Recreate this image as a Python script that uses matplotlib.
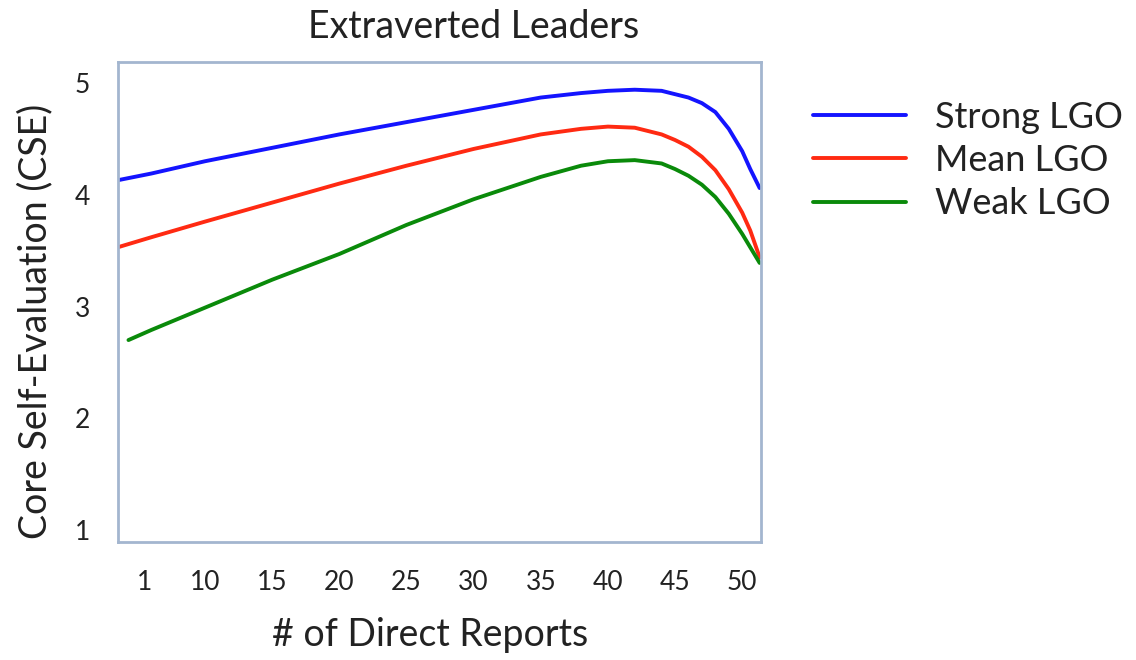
import numpy as np
import matplotlib
matplotlib.use('Agg')
import matplotlib.pyplot as plt

plt.rcParams['font.family'] = ['Lato', 'DejaVu Sans']

# values
x_pts = [3.5, 6, 10, 15, 20, 25, 30, 35, 38, 40, 42, 44, 45, 46, 47, 48, 49, 50, 50.6, 51.3]
strong = [4.13, 4.19, 4.30, 4.42, 4.54, 4.65, 4.76, 4.87, 4.91, 4.93, 4.94, 4.93, 4.90, 4.87,
          4.82, 4.74, 4.59, 4.39, 4.23, 4.06]
mean = [3.53, 3.62, 3.76, 3.93, 4.10, 4.26, 4.41, 4.54, 4.59, 4.61, 4.60, 4.54, 4.49, 4.43,
        4.34, 4.22, 4.05, 3.84, 3.68, 3.44]
x_weak = [4.3, 6, 10, 15, 20, 25, 30, 35, 38, 40, 42, 44, 45, 46, 47, 48, 49, 50, 50.6, 51.3]
weak = [2.70, 2.79, 2.99, 3.24, 3.47, 3.73, 3.96, 4.16, 4.26, 4.30, 4.31, 4.28, 4.23, 4.17,
        4.09, 3.98, 3.83, 3.65, 3.53, 3.39]

xtick_pos = [5.5, 10, 15, 20, 25, 30, 35, 40, 45, 50]
xtick_lab = ['1', '10', '15', '20', '25', '30', '35', '40', '45', '50']
ytick_pos = [1, 2, 3, 4, 5]

fig = plt.figure(figsize=(11.36, 6.6), dpi=100)
ax = fig.add_axes([118 / 1136, 1 - 542 / 660, (761 - 118) / 1136, (542 - 62) / 660])

ax.plot(x_pts, strong, color='#1414ff', lw=2.8, label='Strong LGO', solid_capstyle='round')
ax.plot(x_pts, mean, color='#ff2a12', lw=2.8, label='Mean LGO', solid_capstyle='round')
ax.plot(x_weak, weak, color='#0a8a0a', lw=2.8, label='Weak LGO', solid_capstyle='round')

ax.set_xlim(3.52, 51.4)
ax.set_ylim(0.893, 5.188)

ax.set_xticks(xtick_pos)
ax.set_xticklabels(xtick_lab)
ax.set_yticks(ytick_pos)
ax.tick_params(length=0, labelsize=19, labelcolor='#222222')
ax.tick_params(axis='x', pad=20)
ax.tick_params(axis='y', pad=20)

for s in ax.spines.values():
    s.set_color('#a3b6cf')
    s.set_linewidth(2)

fig.text(474 / 1136, 1 - 27 / 660, 'Extraverted Leaders', ha='center', va='center',
         fontsize=27, color='#222222')
fig.text(430 / 1136, 1 - 635 / 660, '# of Direct Reports', ha='center', va='center',
         fontsize=27, color='#222222')
fig.text(35 / 1136, 1 - 321 / 660, 'Core Self-Evaluation (CSE)', ha='center', va='center',
         rotation=90, fontsize=27, color='#222222')

leg = fig.legend(loc='upper left', bbox_to_anchor=(813 / 1136, 1 - 101 / 660),
                 frameon=False, fontsize=26, handlelength=2.58, handletextpad=0.8,
                 labelspacing=0.28, borderpad=0, borderaxespad=0)
for t in leg.get_texts():
    t.set_color('#222222')

fig.savefig('out.png', dpi=100)
